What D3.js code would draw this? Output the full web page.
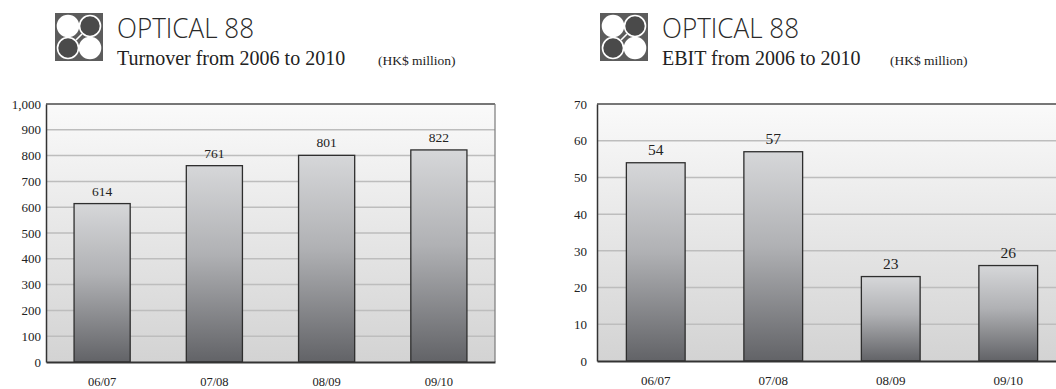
<!DOCTYPE html>
<html>
<head>
<meta charset="utf-8">
<script src="https://cdn.jsdelivr.net/npm/d3@7/dist/d3.min.js"></script>
<style>
  html, body { margin: 0; padding: 0; background: #ffffff; }
  svg { display: block; }
</style>
</head>
<body>
<svg id="chart" width="1056" height="389"></svg>
<script>
// ---- data ----
const categories = ["06/07", "07/08", "08/09", "09/10"];
const turnoverValues = [614, 761, 801, 822];
const ebitValues = [54, 57, 23, 26];
const turnoverTicks = [0, 100, 200, 300, 400, 500, 600, 700, 800, 900, 1000];
const ebitTicks = [0, 10, 20, 30, 40, 50, 60, 70];
const turnoverTitle = "Turnover from 2006 to 2010";
const ebitTitle = "EBIT from 2006 to 2010";
const brandText = "OPTICAL 88";
const unitText = "(HK$ million)";

const svg = d3.select("#chart");
const defs = svg.append("defs");

const bg = defs.append("linearGradient").attr("id", "plotBg")
  .attr("x1", 0).attr("y1", 0).attr("x2", 0).attr("y2", 1);
bg.append("stop").attr("offset", "0%").attr("stop-color", "#fafafa");
bg.append("stop").attr("offset", "100%").attr("stop-color", "#d3d3d3");

const barG = defs.append("linearGradient").attr("id", "barGrad")
  .attr("x1", 0).attr("y1", 0).attr("x2", 0).attr("y2", 1);
barG.append("stop").attr("offset", "0%").attr("stop-color", "#d6d7d9");
barG.append("stop").attr("offset", "45%").attr("stop-color", "#b0b1b4");
barG.append("stop").attr("offset", "100%").attr("stop-color", "#626367");

function drawLogo(g, x, y) {
  const s = 48;
  const lg = g.append("g").attr("transform", `translate(${x},${y})`);
  lg.append("rect").attr("width", s).attr("height", s).attr("fill", "#5c5c5c");
  const r = 10.5;
  const c = [[13, 13, "#ffffff"], [35, 13, "#4a4a4a"], [13, 35, "#4a4a4a"], [35, 35, "#ffffff"]];
  c.forEach(d => {
    lg.append("circle").attr("cx", d[0]).attr("cy", d[1]).attr("r", r)
      .attr("fill", d[2]).attr("stroke", "#ffffff").attr("stroke-width", 1.6);
  });
  lg.append("path").attr("d", "M27,21 Q24,24 21,27")
    .attr("fill", "none").attr("stroke", "#ffffff").attr("stroke-width", 1.6);
}

function drawChart(opt) {
  const g = svg.append("g");
  // header
  drawLogo(g, opt.logoX, 13);
  g.append("text").attr("x", opt.logoX + 62).attr("y", 38)
    .attr("font-family", "'Open Sans', 'Lato', sans-serif").attr("font-weight", 300)
    .attr("font-size", 28).attr("fill", "#2a2a2a")
    .attr("textLength", 137).attr("lengthAdjust", "spacingAndGlyphs")
    .text(brandText);
  g.append("text").attr("x", opt.logoX + 62).attr("y", 65)
    .attr("font-family", "'Liberation Serif', 'Times New Roman', serif")
    .attr("font-size", 20).attr("fill", "#222").text(opt.title);
  g.append("text").attr("x", opt.unitX).attr("y", 65)
    .attr("font-family", "'Liberation Serif', 'Times New Roman', serif")
    .attr("font-size", 13.5).attr("fill", "#222").text(unitText);

  const x = d3.scaleBand().domain(categories).range([opt.left, opt.right])
    .paddingInner(0.5).paddingOuter(0.25);
  const y = d3.scaleLinear().domain([0, opt.max]).range([opt.bottom, opt.top]);

  // plot background
  g.append("rect").attr("x", opt.left).attr("y", opt.top)
    .attr("width", opt.right - opt.left).attr("height", opt.bottom - opt.top)
    .attr("fill", "url(#plotBg)");

  // gridlines
  g.append("g").selectAll("line").data(opt.ticks.filter(t => t > 0 && t < opt.max)).join("line")
    .attr("x1", opt.left).attr("x2", opt.right)
    .attr("y1", d => y(d)).attr("y2", d => y(d))
    .attr("stroke", "#bdbdbd").attr("stroke-width", 1.5);

  // frame top / right
  g.append("line").attr("x1", opt.left).attr("x2", opt.right)
    .attr("y1", y(opt.max)).attr("y2", y(opt.max))
    .attr("stroke", "#4a4a4a").attr("stroke-width", 1.5);
  g.append("line").attr("x1", opt.right).attr("x2", opt.right)
    .attr("y1", opt.top).attr("y2", opt.bottom)
    .attr("stroke", "#7a7a7a").attr("stroke-width", 1.2);

  // bars
  g.append("g").selectAll("rect").data(opt.values).join("rect")
    .attr("x", (d, i) => x(categories[i]))
    .attr("y", d => y(d))
    .attr("width", x.bandwidth())
    .attr("height", d => y(0) - y(d))
    .attr("fill", "url(#barGrad)")
    .attr("stroke", "#2e2e2e").attr("stroke-width", 1.3);

  // value labels
  g.append("g").selectAll("text").data(opt.values).join("text")
    .attr("x", (d, i) => x(categories[i]) + x.bandwidth() / 2)
    .attr("y", d => y(d) - 8)
    .attr("text-anchor", "middle")
    .attr("font-family", "'Liberation Serif', 'Times New Roman', serif")
    .attr("font-size", opt.valueSize).attr("fill", "#222")
    .text(d => d);

  // y axis
  const yAxis = d3.axisLeft(y).tickValues(opt.ticks).tickSize(0)
    .tickPadding(opt.tickPad).tickFormat(d3.format(","));
  const ya = g.append("g").attr("transform", `translate(${opt.left},0)`).call(yAxis);
  ya.select(".domain").attr("stroke", "#333").attr("stroke-width", 1.5);
  ya.selectAll("text").attr("font-family", "'Liberation Serif', 'Times New Roman', serif")
    .attr("font-size", 13).attr("fill", "#222");

  // x axis
  const xAxis = d3.axisBottom(x).tickSize(0).tickPadding(15);
  const xa = g.append("g").attr("transform", `translate(0,${opt.bottom})`).call(xAxis);
  xa.select(".domain").attr("stroke", "#333").attr("stroke-width", 2);
  xa.selectAll("text").attr("font-family", "'Liberation Serif', 'Times New Roman', serif")
    .attr("font-size", opt.catSize).attr("fill", "#222");
}

drawChart({
  title: turnoverTitle, values: turnoverValues, ticks: turnoverTicks, max: 1000,
  logoX: 55, unitX: 378,
  left: 46, right: 495, top: 104, bottom: 362,
  tickPad: 5, valueSize: 13.5, catSize: 12.5
});
drawChart({
  title: ebitTitle, values: ebitValues, ticks: ebitTicks, max: 70,
  logoX: 600, unitX: 890,
  left: 597, right: 1067, top: 104, bottom: 361,
  tickPad: 10, valueSize: 15.5, catSize: 13
});
</script>
</body>
</html>
